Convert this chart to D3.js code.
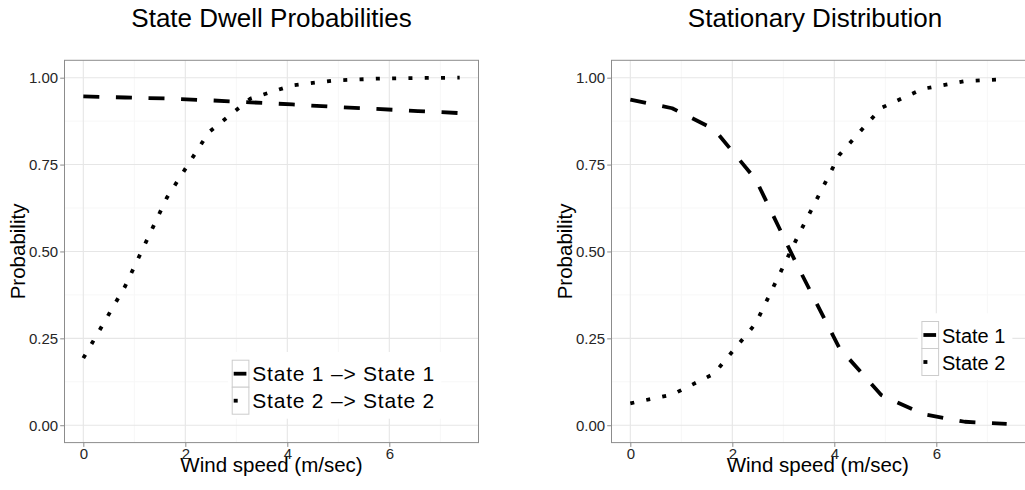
<!DOCTYPE html>
<html>
<head>
<meta charset="utf-8">
<script src="https://cdn.jsdelivr.net/npm/d3@7"></script>
<style>
  body { margin: 0; background: #fff; }
  text { font-family: "Liberation Sans", Arial, sans-serif; }
</style>
</head>
<body>
<div id="chart"></div>
<script>
// wind speed grid shared by both panels
const windSpeed = [0, 0.82, 1.64, 2.46, 3.28, 4.1, 4.92, 5.74, 6.56, 7.38];

// left panel: dwell probabilities
const dwellState1 = [0.946, 0.943, 0.94, 0.935, 0.929, 0.923, 0.916, 0.91, 0.904, 0.898];
const dwellState2 = [0.193, 0.4, 0.655, 0.843, 0.94, 0.978, 0.992, 0.997, 0.999, 1.0];

// right panel: stationary distribution
const statState1 = [0.937, 0.912, 0.852, 0.707, 0.458, 0.222, 0.087, 0.032, 0.01, 0.004];
const statState2 = [0.063, 0.088, 0.148, 0.293, 0.542, 0.778, 0.913, 0.968, 0.99, 0.996];

const xTicks = [0, 2, 4, 6];
const xMinorTicks = [1, 3, 5, 7];
const yTicks = [0, 0.25, 0.5, 0.75, 1];
const yMinorTicks = [0.125, 0.375, 0.625, 0.875];

const width = 1025;
const height = 490;
const panelTop = 60.3;
const panelBottom = 442.6;

const DASHED = "16,16.6";
const DOTTED = "4,12.3";

const panels = [
  {
    title: "State Dwell Probabilities",
    titleX: 271.5,
    left: 64.5,
    right: 478.5,
    yTitleX: 25,
    series: [
      { name: "State 1 \u2013> State 1", values: dwellState1, dash: DASHED },
      { name: "State 2 \u2013> State 2", values: dwellState2, dash: DOTTED },
    ],
    legend: { x: 228, y: 352, fontSize: 21, textLen: 182 },
  },
  {
    title: "Stationary Distribution",
    titleX: 815,
    left: 611.5,
    right: 1025.5,
    yTitleX: 572,
    series: [
      { name: "State 1", values: statState1, dash: DASHED },
      { name: "State 2", values: statState2, dash: DOTTED },
    ],
    legend: { x: 917.7, y: 313.3, fontSize: 20, textLen: null },
  },
];

const svg = d3
  .select("#chart")
  .append("svg")
  .attr("width", width)
  .attr("height", height)
  .attr("viewBox", [0, 0, width, height]);

const drawPanel = (p) => {
  // ggplot style 5% expansion on the x axis
  const xExt = d3.extent(windSpeed);
  const xPad = (xExt[1] - xExt[0]) * 0.05;
  const xScale = d3
    .scaleLinear()
    .domain([xExt[0] - xPad, xExt[1] + xPad])
    .range([p.left, p.right]);

  const yScale = d3
    .scaleLinear()
    .domain([-0.05, 1.05])
    .range([panelBottom, panelTop]);

  const g = svg.append("g");

  g.append("rect")
    .attr("x", p.left)
    .attr("y", panelTop)
    .attr("width", p.right - p.left)
    .attr("height", panelBottom - panelTop)
    .attr("fill", "#fff");

  // minor grid
  g.selectAll(".vminor")
    .data(xMinorTicks)
    .enter()
    .append("line")
    .attr("x1", (d) => xScale(d))
    .attr("x2", (d) => xScale(d))
    .attr("y1", panelTop)
    .attr("y2", panelBottom)
    .attr("stroke", "#f7f7f7")
    .attr("stroke-width", 1);

  g.selectAll(".hminor")
    .data(yMinorTicks)
    .enter()
    .append("line")
    .attr("x1", p.left)
    .attr("x2", p.right)
    .attr("y1", (d) => yScale(d))
    .attr("y2", (d) => yScale(d))
    .attr("stroke", "#f7f7f7")
    .attr("stroke-width", 1);

  // major grid
  g.selectAll(".vmajor")
    .data(xTicks)
    .enter()
    .append("line")
    .attr("x1", (d) => xScale(d))
    .attr("x2", (d) => xScale(d))
    .attr("y1", panelTop)
    .attr("y2", panelBottom)
    .attr("stroke", "#e6e6e6")
    .attr("stroke-width", 1.1);

  g.selectAll(".hmajor")
    .data(yTicks)
    .enter()
    .append("line")
    .attr("x1", p.left)
    .attr("x2", p.right)
    .attr("y1", (d) => yScale(d))
    .attr("y2", (d) => yScale(d))
    .attr("stroke", "#e6e6e6")
    .attr("stroke-width", 1.1);

  // curves
  const line = d3
    .line()
    .x((d, i) => xScale(windSpeed[i]))
    .y((d) => yScale(d));

  p.series.forEach((s) => {
    g.append("path")
      .datum(s.values)
      .attr("d", line)
      .attr("fill", "none")
      .attr("stroke", "#000")
      .attr("stroke-width", 3.8)
      .attr("stroke-dasharray", s.dash)
      .attr("stroke-linecap", "butt")
      .attr("stroke-linejoin", "round");
  });

  // panel border
  g.append("rect")
    .attr("x", p.left)
    .attr("y", panelTop)
    .attr("width", p.right - p.left)
    .attr("height", panelBottom - panelTop)
    .attr("fill", "none")
    .attr("stroke", "#8c8c8c")
    .attr("stroke-width", 1);

  // axes (ticks + labels)
  const xAxis = g
    .append("g")
    .attr("transform", `translate(0, ${panelBottom})`)
    .call(d3.axisBottom(xScale).tickValues(xTicks).tickSize(4.3).tickPadding(1.5).tickFormat(d3.format("d")));
  const yAxis = g
    .append("g")
    .attr("transform", `translate(${p.left}, 0)`)
    .call(d3.axisLeft(yScale).tickValues(yTicks).tickSize(4.3).tickPadding(2).tickFormat(d3.format(".2f")));

  [xAxis, yAxis].forEach((ax) => {
    ax.select(".domain").remove();
    ax.selectAll(".tick line").attr("stroke", "#8c8c8c");
    ax.selectAll(".tick text")
      .attr("fill", "#262626")
      .style("font-size", "15px")
      .style("font-family", '"Liberation Sans", Arial, sans-serif');
  });

  // titles
  svg.append("text")
    .attr("x", p.titleX)
    .attr("y", 27.3)
    .attr("text-anchor", "middle")
    .style("font-size", "26px")
    .text(p.title);

  svg.append("text")
    .attr("x", (p.left + p.right) / 2 - (p.right > width ? 0.7 : 0))
    .attr("y", 471.5)
    .attr("text-anchor", "middle")
    .style("font-size", "20.5px")
    .text("Wind speed (m/sec)");

  svg.append("text")
    .attr("transform", `translate(${p.yTitleX}, ${(panelTop + panelBottom) / 2}) rotate(-90)`)
    .attr("text-anchor", "middle")
    .style("font-size", "20.5px")
    .text("Probability");

  // legend
  const keyW = 16.7;
  const rowH = 27;
  const lg = svg.append("g").attr("transform", `translate(${p.legend.x}, ${p.legend.y})`);
  const bg = lg.append("rect").attr("fill", "#fff");

  let maxText = 0;
  p.series.forEach((s, i) => {
    const ky = 8.2 + i * rowH;
    lg.append("rect")
      .attr("x", 4.2)
      .attr("y", ky)
      .attr("width", keyW)
      .attr("height", rowH)
      .attr("fill", "#fff")
      .attr("stroke", "#cccccc")
      .attr("stroke-width", 1);
    lg.append("line")
      .attr("x1", 4.2 + 1.5)
      .attr("x2", 4.2 + keyW - 2.5)
      .attr("y1", ky + rowH / 2)
      .attr("y2", ky + rowH / 2)
      .attr("stroke", "#000")
      .attr("stroke-width", 3.8)
      .attr("stroke-dasharray", s.dash);
    const t = lg.append("text")
      .attr("x", 4.2 + keyW + 3.4)
      .attr("y", ky + rowH / 2 + 7.6)
      .style("font-size", p.legend.fontSize + "px")
      .text(s.name);
    if (p.legend.textLen) {
      t.attr("textLength", p.legend.textLen).attr("lengthAdjust", "spacing");
    }
    maxText = Math.max(maxText, p.legend.textLen || t.node().getComputedTextLength());
  });

  bg.attr("x", 0)
    .attr("y", 0)
    .attr("width", 4.2 + keyW + 3.4 + maxText + 7)
    .attr("height", 8.2 + rowH * p.series.length + 4.5);
};

panels.forEach(drawPanel);
</script>
</body>
</html>
